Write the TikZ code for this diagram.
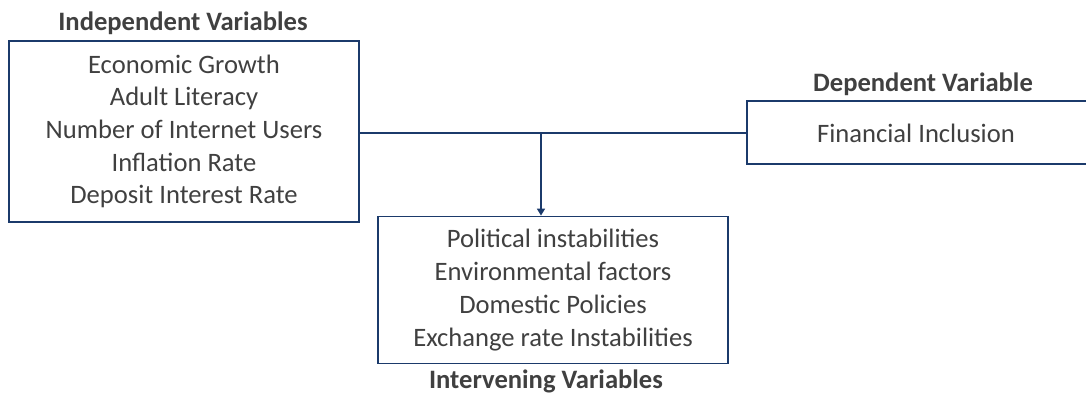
\documentclass[tikz,border=0pt]{standalone}
\usepackage{fontspec}
\setmainfont{Carlito}
\usetikzlibrary{arrows.meta}
\definecolor{navy}{HTML}{1B3A6B}
\definecolor{txt}{HTML}{404040}
\begin{document}
\begin{tikzpicture}[x=1pt,y=1pt,
  varbox/.style={draw=navy,line width=1.8pt,inner sep=0pt,align=center,text=txt,
    font=\fontsize{26.6}{32.7}\selectfont},
  vartitle/.style={inner sep=0pt,text=txt,font=\fontsize{26.6}{30}\selectfont\bfseries},
  link/.style={draw=navy,line width=1.8pt}]
\useasboundingbox (0,0) rectangle (1086,-394);
\node[varbox,minimum width=350,minimum height=181] (indep) at (184,-131.5)
  {Economic Growth\\Adult Literacy\\Number of Internet Users\\Inflation Rate\\Deposit Interest Rate};
\node[vartitle] (indepT) at (183,-23) {Independent Variables};
\node[varbox,minimum width=343,minimum height=63] (dep) at (918.5,-132.5) {};
\node[text=txt,inner sep=0pt,font=\fontsize{26.6}{30}\selectfont] (depL) at (916,-133) {Financial Inclusion};
\node[vartitle] (depT) at (923,-84) {Dependent Variable};
\node[varbox,minimum width=350,minimum height=147] (interv) at (553,-290)
  {Political instabilities\\Environmental factors\\Domestic Policies\\Exchange rate Instabilities};
\node[vartitle] (intervT) at (546,-381) {Intervening Variables};
\coordinate (j) at (541,-133);
\draw[link] (indep.east |- j) -- (dep.west |- j);
\draw[link,line width=1.5pt,-{Triangle[length=7pt,width=8pt]}] (j) -- (j |- interv.north);
\end{tikzpicture}
\end{document}
